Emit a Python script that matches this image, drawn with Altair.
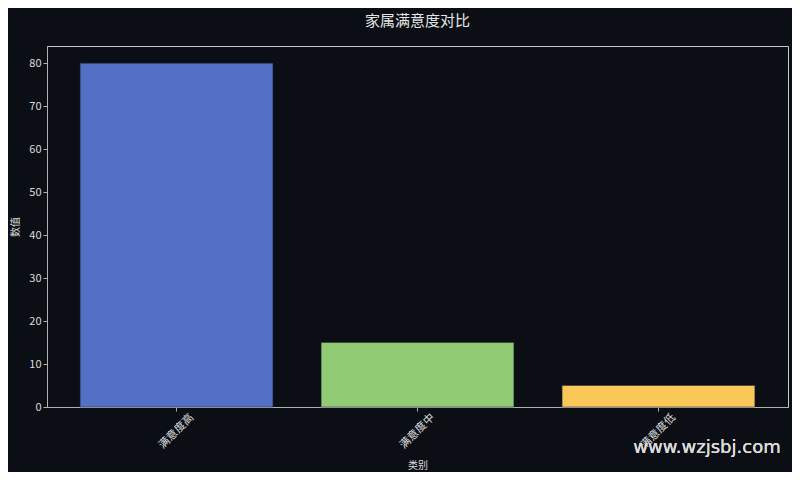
import altair as alt
import pandas as pd

categories = ["满意度高", "满意度中", "满意度低"]
values = [80, 15, 5]
colors = ["#5470c6", "#91cc75", "#fac858"]
y_ticks = [0, 10, 20, 30, 40, 50, 60, 70, 80]

df = pd.DataFrame({"类别": categories, "数值": values})

font = "Noto Sans CJK SC"

bars = alt.Chart(df).mark_bar(strokeWidth=1, strokeOpacity=0.5, stroke="#222a3a").encode(
    x=alt.X("类别:N", sort=categories,
            scale=alt.Scale(paddingInner=0.2, paddingOuter=0.1375),
            axis=alt.Axis(title="类别", labelAngle=-45, labelAlign="center",
                          labelBaseline="middle", labelPadding=20, titlePadding=10)),
    y=alt.Y("数值:Q", scale=alt.Scale(domain=[0, 84], nice=False),
            axis=alt.Axis(title="数值", values=y_ticks, titlePadding=8, grid=False)),
    color=alt.Color("类别:N", scale=alt.Scale(domain=categories, range=colors), legend=None),
)

watermark = alt.Chart(df).mark_text(
    text="www.wzjsbj.com", fontSize=18, color="#dcdcdc", font="DejaVu Sans",
    align="center", baseline="middle", opacity=0.9
).encode(x=alt.value(660), y=alt.value(402))

chart = alt.layer(bars, watermark).properties(
    width=741, height=361,
    title=alt.TitleParams("家属满意度对比", fontSize=15, color="#e6e6e6", font=font,
                          fontWeight="normal", offset=17),
    background="#0b0e14",
    padding={"left": 39, "top": 38, "right": 4, "bottom": 65},
    autosize=alt.AutoSizeParams(type="none"),
).configure_view(
    stroke="#c8c8c8", strokeWidth=1
).configure_axis(
    labelFont=font, titleFont=font, labelColor="#dcdcdc", titleColor="#dcdcdc",
    labelFontSize=11, titleFontSize=10, titleFontWeight="normal",
    domainColor="#b0b0b0", tickColor="#b0b0b0", tickSize=4, domainWidth=1,
)

chart.save("out.html", embed_options={"renderer": "svg", "actions": False})
